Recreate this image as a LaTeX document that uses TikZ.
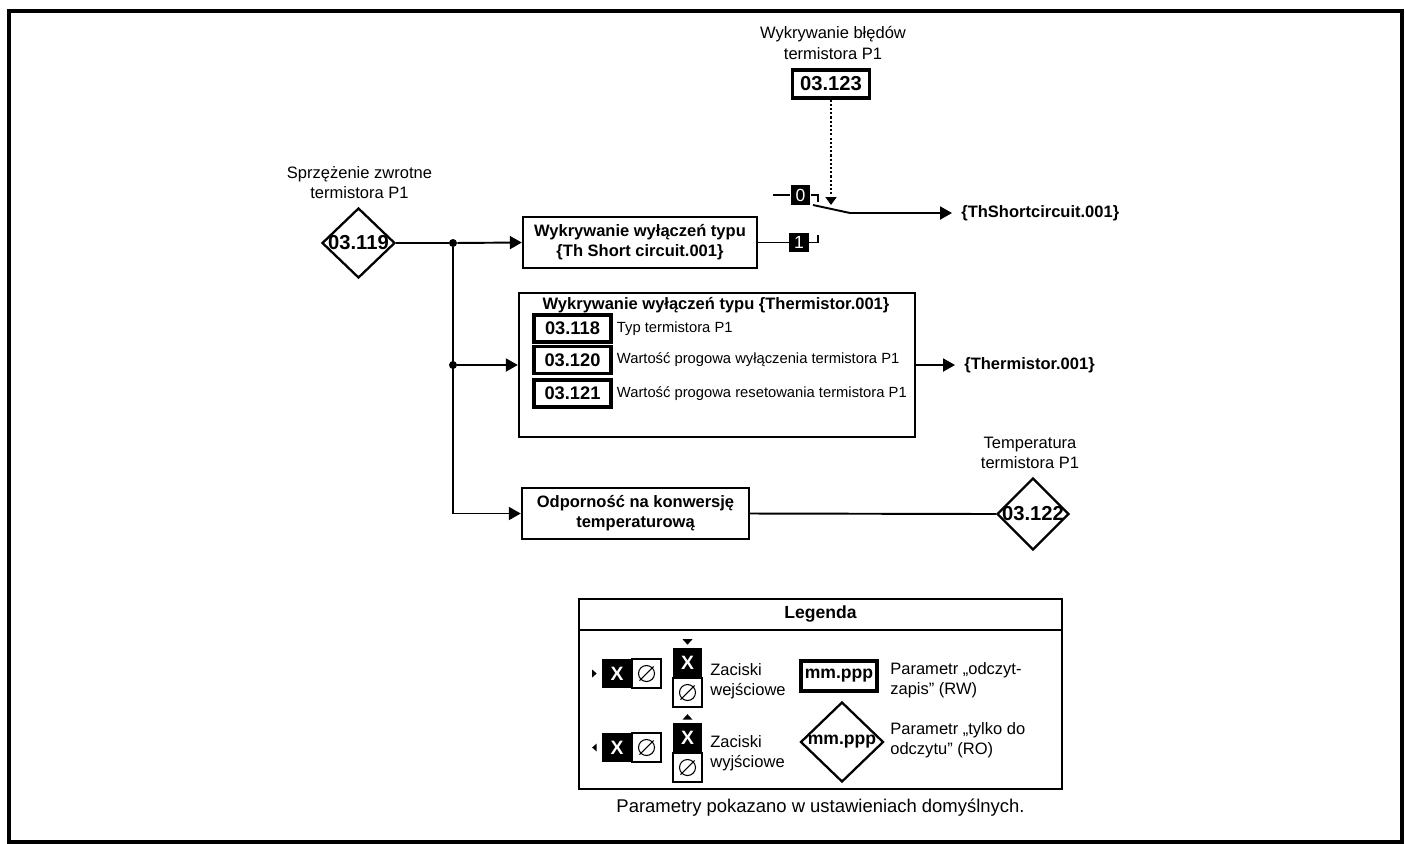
\documentclass[tikz,border=0pt]{standalone}
\usepackage{fontspec}
\setmainfont{Liberation Sans}
\usetikzlibrary{shapes.geometric, arrows.meta, positioning, calc}

\begin{document}
\begin{tikzpicture}[x=0.02cm, y=-0.02cm, font=\fontsize{9.4}{11.4}\selectfont,
        lbl/.style={align=center, inner sep=0pt},
        blk/.style={draw, line width=1.4pt, align=center, inner sep=0pt,
            font=\fontsize{9.4}{11.4}\selectfont\bfseries},
        rw/.style={draw, line width=1.8pt, inner sep=0pt, minimum width=1.54cm,
            minimum height=0.56cm, font=\fontsize{11.5}{13}\selectfont\bfseries},
        ro/.style={draw, diamond, line width=1.3pt, inner sep=0pt,
            font=\fontsize{11.5}{13}\selectfont\bfseries},
        bit/.style={fill=black, text=white, inner sep=0pt, minimum width=0.39cm,
            minimum height=0.39cm, font=\fontsize{10}{12}\selectfont},
        outl/.style={anchor=west, inner xsep=0.18cm, inner ysep=0pt,
            font=\fontsize{9.4}{11.4}\selectfont\bfseries},
        ln/.style={line width=1.1pt},
        tr/.style={ln, -{Triangle[length=2.4mm, width=2.6mm]}},
        dot/.style={circle, fill, inner sep=0pt, minimum size=1.6mm}]
    \useasboundingbox (0,0) rectangle (1405,843);
    \draw[line width=0.08cm] (9,11) rectangle (1402,842);

    % wejscie
    \node[lbl] (tFb) at (359.5,183) {Sprzężenie zwrotne\\termistora P1};
    \node[ro, minimum width=1.46cm, minimum height=1.4cm] (p119) at (358.5,243) {\makebox[0pt]{03.119}};
    \node[dot] (j1) at (453,243) {};
    \node[dot] (j2) at (453,365) {};
    \coordinate (j3) at (453,513.5);

    % zwarcie
    \node[blk, minimum width=4.68cm, minimum height=1.02cm] (bShort) at (640,242.5)
        {Wykrywanie wyłączeń typu\\\{Th Short circuit.001\}};
    \node[lbl] (tDet) at (833,43) {Wykrywanie błędów\\termistora P1};
    \node[rw] (p123) at (831,84) {03.123};
    \node[bit] (b0) at (800.5,195) {0};
    \node[bit] (b1) at (799,242.5) {1};
    \coordinate (s0) at (773,195);
    \coordinate (k0) at (818,202);
    \coordinate (k1) at (818,235);
    \coordinate (swTip) at (831,205);
    \coordinate (swA) at (813,205);
    \coordinate (swB) at (850,213);
    \node[outl] (oShort) at (952,213) {\{ThShortcircuit.001\}};

    % termistor
    \node[blk, minimum width=7.92cm, minimum height=2.88cm] (bTherm) at (717,365) {};
    \node[lbl, font=\fontsize{9.4}{11.4}\selectfont\bfseries] (tTherm) at (716,305)
        {Wykrywanie wyłączeń typu \{Thermistor.001\}};
    \foreach \n/\t/\y in {118/Typ termistora P1/328.5,
            120/Wartość progowa wyłączenia termistora P1/360,
            121/Wartość progowa resetowania termistora P1/393.5} {
        \node[rw, minimum height=0.54cm, font=\fontsize{10.4}{12}\selectfont\bfseries]
            (p\n) at (572.5,\y) {03.\n};
        \node[lbl, anchor=west, font=\fontsize{8.4}{10}\selectfont] (t\n) at ([xshift=0.08cm]p\n.east) {\t};
    }
    \node[outl] (oTherm) at (955,365) {\{Thermistor.001\}};

    % temperatura
    \node[blk, minimum width=4.54cm, minimum height=1.02cm] (bTemp) at (635.5,513.5)
        {Odporność na konwersję\\temperaturową};
    \node[lbl] (tTemp) at (1030,453) {Temperatura\\termistora P1};
    \node[ro, minimum width=1.44cm, minimum height=1.44cm] (p122) at (1033,514) {\makebox[0pt]{03.122}};

    % polaczenia
    \draw[ln] (p119.east) -- (j1);
    \draw[tr] (j1) -- (bShort.west);
    \draw[ln] (j1) -- (j3);
    \draw[tr] (j2) -- (bTherm.west);
    \draw[tr] (j3) -- (bTemp.west);
    \draw[ln] (bTemp.east) -- (p122.west);
    \draw[tr] (bTherm.east) -- (oTherm.west);
    \draw[ln] (s0) -- (b0.west);
    \draw[ln] (b0.east) -| (k0);
    \draw[ln] (bShort.east) -- (b1.west);
    \draw[ln] (b1.east) -| (k1);
    \draw[ln] (swA) -- (swB);
    \draw[tr] (swB) -- (oShort.west);
    \draw[ln, dash pattern=on 1.2pt off 1.2pt, -{Triangle[length=1.6mm, width=2.2mm]}]
        (p123.south) -- (swTip);

    % legenda
    \node[draw, line width=1.4pt, minimum width=9.66cm, minimum height=3.8cm] (leg) at (820.5,694) {};
    \node[font=\fontsize{10}{12}\selectfont\bfseries] (tLeg) at (820.5,614) {Legenda};
    \coordinate (sepL) at (579,630);
    \coordinate (sepR) at (1062,630);
    \draw[line width=1.3pt] (sepL) -- (sepR);
    \foreach \r/\y in {A/673.5, B/747.5} {
        \node[bit, minimum width=0.6cm, minimum height=0.58cm, font=\fontsize{11}{13}\selectfont\bfseries] (x\r) at (617,\y) {X};
        \node[draw, line width=0.8pt, minimum width=0.58cm, minimum height=0.58cm] (z\r) at (646.5,\y) {};
    }
    \fill (xA.west) ++(-0.1cm,0) -- ++(-0.09cm,0.08cm) -- ++(0,-0.16cm) -- cycle;
    \fill (xB.west) ++(-0.19cm,0) -- ++(0.09cm,0.08cm) -- ++(0,-0.16cm) -- cycle;
    \node[bit, minimum width=0.58cm, minimum height=0.6cm, font=\fontsize{11}{13}\selectfont\bfseries] (vA) at (687.5,663) {X};
    \node[draw, line width=0.8pt, minimum width=0.58cm, minimum height=0.58cm] (wA) at (687.5,692.5) {};
    \node[bit, minimum width=0.58cm, minimum height=0.6cm, font=\fontsize{11}{13}\selectfont\bfseries] (vB) at (687.5,738) {X};
    \node[draw, line width=0.8pt, minimum width=0.58cm, minimum height=0.58cm] (wB) at (687.5,767.5) {};
    \fill (vA.north) ++(0,0.06cm) -- ++(-0.1cm,0.11cm) -- ++(0.2cm,0) -- cycle;
    \fill (vB.north) ++(0,0.17cm) -- ++(-0.1cm,-0.11cm) -- ++(0.2cm,0) -- cycle;
    \foreach \z in {zA, zB, wA, wB} {
        \draw[line width=0.6pt] (\z.center) circle (0.16cm);
        \draw[line width=0.6pt] (\z.center) ++(-135:0.2cm) -- ++(45:0.4cm);
    }
    \node[lbl, anchor=west, align=left] (tIn) at (710,681) {Zaciski\\wejściowe};
    \node[lbl, anchor=west, align=left] (tOut) at (710,753) {Zaciski\\wyjściowe};
    \node[rw, minimum width=1.52cm, minimum height=0.6cm, font=\fontsize{10}{12}\selectfont\bfseries] (mRW) at (839,676) {mm.ppp};
    \node[ro, minimum width=1.66cm, minimum height=1.6cm, font=\fontsize{10}{12}\selectfont\bfseries] (mRO) at (842,742) {\makebox[0pt]{mm.ppp}};
    \node[lbl, anchor=west, align=left] (tRW) at (890,680) {Parametr „odczyt-\\zapis” (RW)};
    \node[lbl, anchor=west, align=left] (tRO) at (890,740) {Parametr „tylko do\\odczytu” (RO)};
    \node[lbl, font=\fontsize{10.5}{12}\selectfont] (tNote) at (820.5,808) {Parametry pokazano w ustawieniach domyślnych.};
\end{tikzpicture}
\end{document}
